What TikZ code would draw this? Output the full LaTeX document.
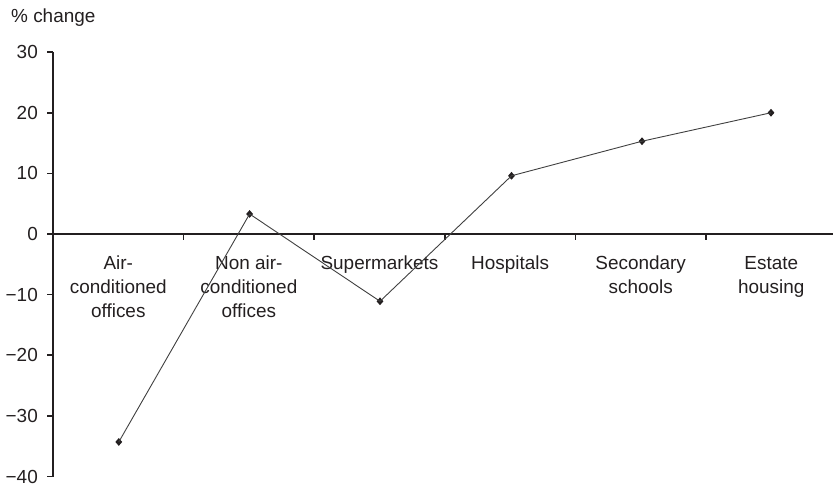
\documentclass[tikz,border=0pt]{standalone}
\usepackage{fontspec}
\setmainfont{Liberation Sans}
\usetikzlibrary{shapes.geometric}
\definecolor{axiscol}{HTML}{231F20}
\definecolor{datacol}{HTML}{404040}
\begin{document}
\begin{tikzpicture}[x=1bp,y=1bp,
  axisline/.style={line width=2bp, draw=axiscol},
  tickmark/.style={line width=1.6bp, draw=axiscol},
  ticklabel/.style={anchor=east, inner sep=0pt, text=axiscol, font=\fontsize{19}{24}\selectfont},
  catlabel/.style={anchor=north, inner sep=0pt, align=center, text=axiscol, font=\fontsize{19}{24}\selectfont},
  datapt/.style={diamond, fill=axiscol, inner sep=0pt, minimum width=7bp, minimum height=8bp},
  dataline/.style={line width=0.9bp, draw=datacol}]
\useasboundingbox (0,0) rectangle (834,488);
% axes
\coordinate (ytop) at (53,436);
\coordinate (ybot) at (53,11);
\coordinate (xleft) at (53,254);
\coordinate (xright) at (833,254);
\draw[axisline] (ytop) -- (ybot);
\draw[axisline] (xleft) -- (xright);
% y ticks and labels
\foreach \v/\t in {30/30,20/20,10/10,0/0,-10/−10,-20/−20,-30/−30,-40/−40}{
  \pgfmathsetmacro{\yy}{254+6.0625*\v}
  \draw[tickmark] (47,\yy) -- (53,\yy);
  \node[ticklabel] (yl\v) at (38,\yy) {\t};
}
% category ticks
\foreach \k in {1,...,5}{
  \pgfmathsetmacro{\xx}{53+130.6*\k}
  \draw[tickmark] (\xx,254) -- (\xx,247.5);
}
% axis title
\node[anchor=base west, inner sep=0pt, text=axiscol, font=\fontsize{19}{24}\selectfont] (ytitle) at (11,465) {\% change};
% category labels
\node[catlabel] (c1) at (118.3,232) {Air-\\conditioned\\offices};
\node[catlabel] (c2) at (248.9,232) {Non air-\\conditioned\\offices};
\node[catlabel] (c3) at (379.5,232) {Supermarkets};
\node[catlabel] (c4) at (510.1,232) {Hospitals};
\node[catlabel] (c5) at (640.7,232) {Secondary\\schools};
\node[catlabel] (c6) at (771.3,232) {Estate\\housing};
% data
\node[datapt] (p1) at (118.8,{254+6.0625*(-34.3)}) {};
\node[datapt] (p2) at (249.6,{254+6.0625*(3.3)}) {};
\node[datapt] (p3) at (380,{254+6.0625*(-11.1)}) {};
\node[datapt] (p4) at (511.5,{254+6.0625*(9.6)}) {};
\node[datapt] (p5) at (642,{254+6.0625*(15.3)}) {};
\node[datapt] (p6) at (771,{254+6.0625*(20.0)}) {};
\draw[dataline] (p1.center) -- (p2.center) -- (p3.center) -- (p4.center) -- (p5.center) -- (p6.center);
\end{tikzpicture}
\end{document}
